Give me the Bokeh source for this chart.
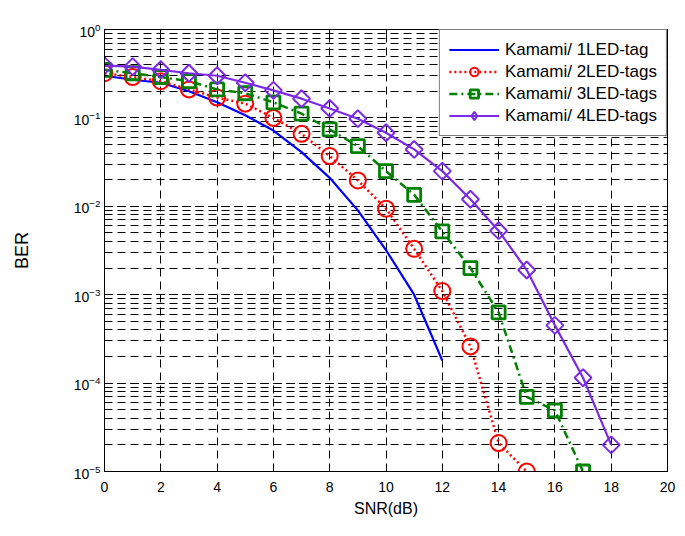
from bokeh.plotting import figure
from bokeh.models import (Legend, LegendItem, LinearAxis, LogAxis, FixedTicker,
                          LogTicker, Range1d)
from bokeh.embed import file_html
from bokeh.resources import INLINE

# ---- data ----
snr_1 = [0, 1, 2, 3, 4, 5, 6, 7, 8, 9, 10, 11, 12]
ber_1 = [0.30, 0.27, 0.25, 0.20, 0.15, 0.107, 0.072, 0.041, 0.021, 0.009, 0.0032, 0.001, 0.00018]

snr_2 = [0, 1, 2, 3, 4, 5, 6, 7, 8, 9, 10, 11, 12, 13, 14, 15]
ber_2 = [0.32, 0.29, 0.26, 0.21, 0.17, 0.145, 0.10, 0.066, 0.037, 0.0196, 0.0094,
         0.0033, 0.0011, 0.00026, 2.1e-5, 1.0e-5]

snr_3 = [0, 1, 2, 3, 4, 5, 6, 7, 8, 9, 10, 11, 12, 13, 14, 15, 16, 17]
ber_3 = [0.35, 0.32, 0.29, 0.26, 0.21, 0.19, 0.15, 0.112, 0.074, 0.048, 0.025,
         0.0135, 0.0052, 0.0020, 6.3e-4, 7.0e-5, 4.9e-5, 1.0e-5]

snr_4 = [0, 1, 2, 3, 4, 5, 6, 7, 8, 9, 10, 11, 12, 13, 14, 15, 16, 17, 18]
ber_4 = [0.39, 0.38, 0.35, 0.32, 0.30, 0.25, 0.205, 0.165, 0.128, 0.098, 0.068,
         0.044, 0.025, 0.012, 0.0053, 0.0019, 4.5e-4, 1.15e-4, 2.0e-5]

labels = ["Kamami/ 1LED-tag", "Kamami/ 2LED-tags", "Kamami/ 3LED-tags", "Kamami/ 4LED-tags"]
x_ticks = [0, 2, 4, 6, 8, 10, 12, 14, 16, 18, 20]
x_lim = (0, 20)
y_lim = (1e-5, 1)

FONT = "Liberation Sans"
NAN = float("nan")

p = figure(width=677, height=528, y_axis_type="log", output_backend="svg",
           toolbar_location=None, x_range=Range1d(*x_lim), y_range=Range1d(*y_lim),
           min_border_left=104, min_border_right=10, min_border_top=29, min_border_bottom=57,
           x_axis_label="SNR(dB)", y_axis_label="BER")
p.background_fill_color = "white"
p.border_fill_color = "white"
p.outline_line_color = "black"
p.outline_line_width = 1

p.xaxis.ticker = FixedTicker(ticks=x_ticks)
p.yaxis.ticker = LogTicker(num_minor_ticks=10)

for ax in (p.xaxis[0], p.yaxis[0]):
    ax.major_tick_in = 5
    ax.major_tick_out = 0
    ax.minor_tick_in = 3
    ax.minor_tick_out = 0
    ax.axis_line_color = "black"
    ax.major_tick_line_color = "black"
    ax.minor_tick_line_color = "black"
    ax.major_label_text_font = FONT
    ax.major_label_text_font_size = "14px"
    ax.major_label_text_color = "black"
    ax.axis_label_text_font = FONT
    ax.axis_label_text_font_style = "normal"
    ax.axis_label_text_color = "black"

p.xaxis.axis_label_text_font_size = "16px"
p.yaxis.axis_label_text_font_size = "18px"
p.xaxis.major_label_standoff = 10
p.xaxis.axis_label_standoff = 5
p.yaxis.major_label_standoff = 4
p.yaxis.axis_label_standoff = 39

# mirrored tick marks on top and right (labels hidden)
top = LinearAxis(ticker=FixedTicker(ticks=x_ticks), major_label_text_font_size="1px",
                 major_label_text_color=None, major_tick_in=5, major_tick_out=0,
                 major_label_standoff=0, axis_line_color="black")
p.add_layout(top, "above")
right = LogAxis(ticker=LogTicker(num_minor_ticks=10), major_label_text_font_size="1px",
                major_label_text_color=None, major_tick_in=5, major_tick_out=0,
                minor_tick_in=3, minor_tick_out=0, major_label_standoff=0,
                axis_line_color="black")
p.add_layout(right, "right")

p.xgrid.ticker = FixedTicker(ticks=x_ticks)
p.xgrid.grid_line_color = "black"
p.xgrid.grid_line_dash = "8 5"
p.xgrid.grid_line_width = 1
p.ygrid.grid_line_color = "black"
p.ygrid.grid_line_dash = "8 5"
p.ygrid.minor_grid_line_color = "black"
p.ygrid.minor_grid_line_dash = "8 5"

# series
l1 = p.line(snr_1, ber_1, line_color="#0000ff", line_width=2.2)

l2 = p.line(snr_2, ber_2, line_color="#ff0000", line_width=2.5, line_dash="2 3")
m2 = p.scatter(snr_2, ber_2, marker="circle", size=16, fill_color=None,
               line_color="#ff0000", line_width=2)

l3 = p.line(snr_3, ber_3, line_color="#008000", line_width=2.5, line_dash="8 4 2 4")
m3 = p.scatter(snr_3, ber_3, marker="square", size=13, fill_color=None,
               line_color="#008000", line_width=2.8)

l4 = p.line(snr_4, ber_4, line_color="#7b2be6", line_width=2.2)
m4 = p.scatter(snr_4, ber_4, marker="square", angle=0.785398, size=12, fill_color=None,
               line_color="#7b2be6", line_width=2)
# legend-only diamond glyph (a single undrawn NaN row)
m4_leg = p.scatter(x=[NAN], y=[NAN], marker="diamond", size=12, fill_color=None,
                   line_color="#7b2be6", line_width=2)

legend = Legend(items=[
    LegendItem(label=labels[0], renderers=[l1]),
    LegendItem(label=labels[1], renderers=[l2, m2]),
    LegendItem(label=labels[2], renderers=[l3, m3]),
    LegendItem(label=labels[3], renderers=[l4, m4_leg]),
], location="top_right")
legend.margin = 0
legend.padding = 9
legend.spacing = 1
legend.glyph_width = 50
legend.glyph_height = 21
legend.label_standoff = 6
legend.label_text_font = FONT
legend.label_text_font_size = "17px"
legend.label_text_color = "black"
legend.border_line_color = "black"
legend.border_line_width = 1
legend.background_fill_color = "white"
legend.background_fill_alpha = 1
p.add_layout(legend)

open("out.html", "w").write(file_html(p, INLINE))
